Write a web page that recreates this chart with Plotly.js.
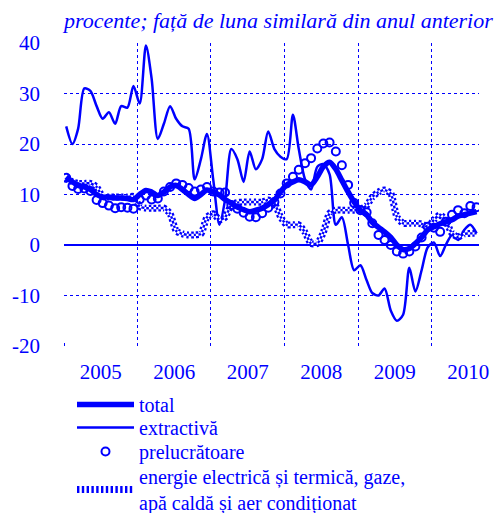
<!DOCTYPE html>
<html>
<head>
<meta charset="utf-8">
<script src="https://cdn.plot.ly/plotly-3.0.1.min.js"></script>
<style>
  html, body { margin: 0; padding: 0; background: #fff; }
  #chart { width: 497px; height: 513px; }
</style>
</head>
<body>
<div id="chart"></div>
<script>
// producția industrială, procente față de luna similară din anul anterior
// ian. 2005 - aug. 2010, date lunare
const startYear = 2005;
const nMonths = 68;
const months = [];
for (let i = 0; i < nMonths; i++) {
  const y = startYear + Math.floor(i / 12);
  const m = (i % 12) + 1;
  months.push(`${y}-${String(m).padStart(2, '0')}-12`);
}

const total = [
  13.5, 12.5, 11.8, 11.5, 11.0, 10.0, 9.5, 9.5, 9.3, 9.3, 9.2, 9.0,
  10.0, 10.8, 10.5, 9.8, 10.5, 11.5, 11.8, 11.0, 10.0, 9.2, 10.0, 10.9,
  10.5, 9.9, 9.0, 8.3, 7.5, 7.0, 6.6, 6.9, 7.3, 8.0, 8.9, 10.5,
  11.9, 12.5, 12.9, 12.5, 11.9, 13.5, 15.5, 16.4, 15.0, 12.8, 10.5, 8.5,
  6.9, 6.0, 4.5, 3.5, 2.6, 1.5, 0.0, -0.9, -0.7, 0.3, 1.5, 3.0,
  3.6, 4.2, 4.6, 5.0, 5.7, 6.0, 6.3, 6.6
];

const extractiva = [
  23.5, 20.0, 23.0, 31.0, 30.5, 27.5, 25.0, 26.3, 24.0, 27.5, 27.2, 31.5,
  28.0, 39.5, 33.0, 21.0, 24.0, 27.5, 25.0, 23.5, 23.0, 13.0, 17.0, 22.0,
  13.0, 4.0, 9.0, 19.0, 17.0, 12.5, 18.5, 15.0, 17.0, 22.5, 19.0, 17.5,
  17.0, 25.8, 19.0, 13.0, 11.0, 15.5, 16.0, 14.0, 4.0, 5.5, 0.0, -5.0,
  -4.0, -7.0, -9.5, -10.0, -8.6, -13.0, -15.0, -13.8, -4.5, -9.2, -5.0, -0.5,
  0.5, -2.2, 0.0, 2.0, 1.0, 3.0, 4.0, 2.3
];

const prelucratoare = [
  13.3, 11.7, 11.1, 11.2, 10.7, 8.9, 8.3, 7.8, 7.3, 7.5, 7.4, 7.2,
  9.0, 9.8, 9.0, 9.2, 10.6, 11.5, 12.2, 11.9, 11.3, 10.6, 11.0, 11.5,
  10.6, 10.4, 10.4, 7.9, 7.2, 6.4, 5.6, 5.5, 6.3, 7.4, 8.5, 10.2,
  12.2, 13.5, 14.9, 16.2, 17.2, 19.1, 20.1, 20.3, 18.5, 15.8, 11.9, 8.3,
  6.9, 6.5, 4.3, 2.0, 1.0, 0.0, -1.3, -1.7, -1.3, -0.3, 1.5, 3.6,
  3.4, 2.6, 4.6, 6.0, 6.9, 6.3, 7.7, 7.5
];

const energie = [
  13.2, 12.5, 12.2, 12.2, 12.2, 11.5, 9.6, 9.5, 9.5, 9.5, 9.5, 9.6,
  7.6, 7.3, 7.3, 7.3, 7.3, 6.2, 2.8, 2.2, 2.0, 2.0, 2.2, 5.5,
  6.2, 5.0, 5.5, 7.9, 8.4, 8.5, 8.5, 8.5, 8.5, 8.9, 8.2, 5.6,
  4.0, 4.0, 4.0, 2.5, 0.3, 0.3, 2.5, 6.3, 6.9, 6.9, 6.9, 6.9,
  7.1, 7.8, 9.5, 10.5, 10.9, 10.2, 5.6, 4.3, 4.3, 4.3, 4.2, 3.6,
  5.0, 6.0, 4.8, 2.3, 1.6, 2.2, 2.3, 2.3
];

const yearLabels = ['2005', '2006', '2007', '2008', '2009', '2010'];
const yearMid = yearLabels.map(y => `${y}-07-02`);
const yTicks = [-20, -10, 0, 10, 20, 30, 40];
const yTickText = ['-20', '-10', '0', '10', '20', '30', '40'];

const BLUE = '#0000ff';
const FONT = "'Liberation Serif', 'Times New Roman', serif";

const traces = [
  {
    x: months, y: extractiva, type: 'scatter', mode: 'lines',
    name: 'extractivă', legend: 'legend2',
    line: { color: BLUE, width: 2.5, shape: 'spline', smoothing: 0.8 }
  },
  // energie: model în carouri din trei linii suprapuse
  {
    x: months, y: energie, type: 'scatter', mode: 'lines',
    name: 'energie electrică și termică, gaze,<br>apă caldă și aer condiționat',
    legend: 'legend4',
    line: { color: BLUE, width: 7, dash: '2.4px,2.4px', shape: 'spline', smoothing: 0.6 }
  },
  {
    x: months, y: energie, type: 'scatter', mode: 'lines', showlegend: false,
    line: { color: '#ffffff', width: 2.4, dash: '2.4px,2.4px', shape: 'spline', smoothing: 0.6 }
  },
  {
    x: months, y: energie, type: 'scatter', mode: 'lines', showlegend: false,
    line: { color: BLUE, width: 2.4, dash: '0px,2.4px,2.4px,0px', shape: 'spline', smoothing: 0.6 }
  },
  {
    x: months, y: total, type: 'scatter', mode: 'lines',
    name: 'total', legend: 'legend',
    line: { color: BLUE, width: 5.5, shape: 'spline', smoothing: 0.8 }
  },
  {
    x: months, y: prelucratoare, type: 'scatter', mode: 'markers',
    name: 'prelucrătoare', legend: 'legend3',
    marker: { symbol: 'circle-open', size: 8, color: BLUE, line: { width: 2, color: BLUE } }
  }
];

// câte o legendă pe rând, ca în original
const legendBox = (top) => ({
  xref: 'container', yref: 'container',
  x: 72 / 497, y: 1 - top / 513,
  xanchor: 'left', yanchor: 'top',
  orientation: 'v',
  itemwidth: 57,
  bgcolor: 'rgba(0,0,0,0)',
  font: { family: FONT, size: 20, color: BLUE }
});

const layout = {
  width: 497,
  height: 513,
  margin: { l: 64, r: 18, t: 43, b: 167, autoexpand: false },
  paper_bgcolor: '#ffffff',
  plot_bgcolor: '#ffffff',
  font: { family: FONT, color: BLUE, size: 20 },
  title: {
    text: '<i>procente; față de luna similară din anul anterior</i>',
    font: { family: FONT, size: 22, color: BLUE },
    xref: 'paper', x: 0, xanchor: 'left',
    yref: 'container', y: 1 - 20 / 513, yanchor: 'middle'
  },
  xaxis: {
    type: 'date',
    range: ['2005-01-01', '2010-08-24'],
    tickmode: 'array',
    tickvals: yearMid,
    ticktext: yearLabels,
    tickangle: 0,
    ticks: '',
    showgrid: false,
    zeroline: false,
    showline: false,
    ticklabelstandoff: 11,
    tickfont: { family: FONT, size: 21, color: BLUE },
    minor: {
      dtick: 'M12', tick0: '2005-01-01',
      showgrid: true, gridcolor: BLUE, gridwidth: 1, griddash: 'dot',
      ticks: 'inside', ticklen: 3, tickcolor: BLUE
    },
    fixedrange: true
  },
  yaxis: {
    range: [-20, 40],
    tickmode: 'array',
    tickvals: yTicks,
    ticktext: yTickText,
    showgrid: true, gridcolor: BLUE, gridwidth: 1, griddash: 'dot',
    zeroline: true, zerolinecolor: BLUE, zerolinewidth: 1.2,
    showline: false,
    ticks: '',
    ticklabelstandoff: 23,
    tickfont: { family: FONT, size: 21, color: BLUE },
    fixedrange: true
  },
  showlegend: true,
  legend: legendBox(385),
  legend2: legendBox(408),
  legend3: legendBox(432),
  legend4: legendBox(457)
};

Plotly.newPlot('chart', traces, layout, { staticPlot: true });
</script>
</body>
</html>
